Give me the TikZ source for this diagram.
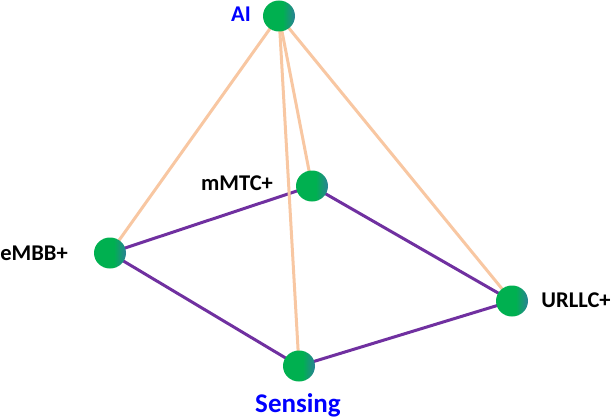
\documentclass[tikz,border=0pt]{standalone}
\usepackage{fontspec}
\setmainfont{Carlito}
\definecolor{ngreen}{HTML}{00B050}
\definecolor{nteal}{HTML}{2A8296}
\definecolor{peach}{HTML}{F8C7A2}
\definecolor{vpurple}{HTML}{7030A0}
\definecolor{lblue}{HTML}{0000FF}
\pgfdeclarehorizontalshading{nodeshade}{100bp}{color(0bp)=(ngreen); color(56bp)=(ngreen); color(75bp)=(nteal); color(100bp)=(nteal)}
\tikzset{
  vert/.style={ellipse, minimum width=32pt, minimum height=31pt, inner sep=0pt, shading=nodeshade},
  lab/.style={font=\fontsize{22.5}{22.5}\selectfont\bfseries, text=black, inner sep=0pt},
  bluelab/.style={lab, text=lblue},
  ring/.style={draw=vpurple, line width=3pt},
  spoke/.style={draw=peach, line width=3pt}
}
\usetikzlibrary{shapes.geometric}
\begin{document}
\begin{tikzpicture}[x=1pt,y=-1pt]
\useasboundingbox (0,0) rectangle (614,420);
\coordinate (cAI) at (279,16);
\coordinate (cM) at (312,186);
\coordinate (cE) at (110,253);
\coordinate (cU) at (512,301);
\coordinate (cS) at (299,366);
\draw[ring] (cE) -- (cM) -- (cU) -- (cS) -- cycle;
\draw[spoke] (cAI) -- (cE);
\draw[spoke] (cAI) -- (cM);
\draw[spoke] (cAI) -- (cS);
\draw[spoke] (cAI) -- (cU);
\node[vert] (AI) at (cAI) {};
\node[vert] (M) at (cM) {};
\node[vert] (E) at (cE) {};
\node[vert] (U) at (cU) {};
\node[vert] (S) at (cS) {};
\node[bluelab] (lAI) at (241,14) {AI};
\node[lab] (lM) at (237,183) {mMTC+};
\node[lab] (lE) at (34,253) {eMBB+};
\node[lab] (lU) at (576,300) {URLLC+};
\node[bluelab, font=\fontsize{27}{27}\selectfont\bfseries] (lS) at (298,405) {Sensing};
\end{tikzpicture}
\end{document}
